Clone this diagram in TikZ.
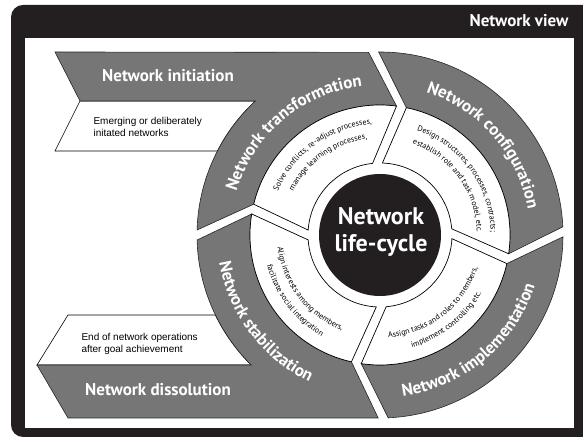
\documentclass[tikz,border=0pt]{standalone}
\usepackage{fontspec}
\setmainfont{Liberation Sans}
\newfontfamily\headfont{PT Sans}
\usetikzlibrary{decorations.text}

\definecolor{framedark}{RGB}{35,31,32}
\definecolor{ringgrey}{RGB}{118,118,118}

% radii of the cycle, half gap between the phases (degrees)
\def\Ro{183}
\def\Rm{130}
\def\Ri{72}
\def\ho{1.57}
\def\hm{2.2}
\def\hi{3.92}

\newcommand{\phasefont}{\headfont\bfseries\fontsize{17}{20}\selectfont\color{white}}
\newcommand{\taskfont}{\headfont\fontsize{8}{9}\selectfont}

\tikzset{
	phase/.style={fill=ringgrey, draw=black!85, line width=0.6pt},
	task/.style={fill=white, draw=black, line width=0.7pt},
	goal/.style={fill=white, draw=black, line width=0.6pt},
	headline/.style={font=\headfont\bfseries\fontsize{17}{20}\selectfont, text=white},
	goaltext/.style={font=\fontsize{10}{12.5}\selectfont, align=left, anchor=west},
	phasetext/.style={decorate, decoration={text along path, text align=center, text={|\phasefont|#1}}},
	tasktext/.style={decorate, decoration={text along path, text align=center, text={|\taskfont|#1}}},
}

\begin{document}
\begin{tikzpicture}[x=1pt,y=1pt]
	\useasboundingbox (0,0) rectangle (583,438);
	% frame
	\fill[framedark, rounded corners=12] (11,1) rectangle (600,433);
	\fill[white] (25,10) rectangle (574,400);
	\node[headline, anchor=east] (view) at (572,417) {Network view};

	\begin{scope}[shift={(380,203)}]
		% transformation, with the initiation banner
		\filldraw[goal] (-300,134) -- (132.92:\Ro) arc[start angle=132.92, end angle=152.68, radius=\Ro] -- (-325,84) -- cycle;
		\filldraw[phase] (-325,183) -- ({92+\ho}:\Ro) -- ({80.5+\hm}:\Rm)
			arc[start angle=80.5+\hm, end angle=168.5-\hm, radius=\Rm]
			-- ({180-\ho}:\Ro) arc[start angle=180-\ho, end angle=132.92, radius=\Ro]
			-- (-300,134) -- cycle;
		% configuration
		\filldraw[phase] ({92-\ho}:\Ro) arc[start angle=92-\ho, end angle=1+\ho, radius=\Ro]
			-- ({-10.5+\hm}:\Rm) arc[start angle=-10.5+\hm, end angle=80.5-\hm, radius=\Rm] -- cycle;
		% implementation
		\filldraw[phase] ({1-\ho}:\Ro) arc[start angle=1-\ho, end angle=-89+\ho, radius=\Ro]
			-- ({-100.5+\hm}:\Rm) arc[start angle=-100.5+\hm, end angle=-10.5-\hm, radius=\Rm] -- cycle;
		% stabilization, with the dissolution banner
		\filldraw[goal] (-312,-80) -- (-154.08:\Ro) arc[start angle=-154.08, end angle=-134.73, radius=\Ro] -- (-343,-130) -- cycle;
		\filldraw[phase] (-343,-130) -- (-134.73:\Ro) arc[start angle=-134.73, end angle=-180+\ho, radius=\Ro]
			-- ({-191.5+\hm}:\Rm) arc[start angle=-191.5+\hm, end angle=-100.5-\hm, radius=\Rm]
			-- ({-89-\ho}:\Ro) -- (-312,-183) -- cycle;

		% inner task sectors
		\foreach \a/\b in {180/92, 92/1, 1/-89, -89/-180}
			\filldraw[task] ({\a-11.5-\hm}:\Rm) -- ({\a-\hi}:\Ri) arc[start angle=\a-\hi, end angle=\b+\hi, radius=\Ri]
				-- ({\b-11.5+\hm}:\Rm) arc[start angle=\b-11.5+\hm, end angle=\a-11.5-\hm, radius=\Rm] -- cycle;

		\fill[framedark] (0,0) circle (61);
		\node[headline, font=\headfont\bfseries\fontsize{24}{27}\selectfont, align=center] (cycle) at (1,3) {Network\\life-cycle};

		% phase names
		\path[phasetext={Network transformation}] (180:150) arc[start angle=180, end angle=80, radius=150];
		\path[phasetext={Network configuration}] (91:150) arc[start angle=91, end angle=-9, radius=150];
		\path[phasetext={Network implementation}] (-100:163) arc[start angle=-100, end angle=0, radius=163];
		\path[phasetext={Network stabilization}] (167:163) arc[start angle=167, end angle=267, radius=163];

		% tasks
		\path[tasktext={Solve conflicts, re-adjust processes,}] (175.5:111) arc[start angle=175.5, end angle=75.5, radius=111];
		\path[tasktext={manage learning processes,}] (175.5:97) arc[start angle=175.5, end angle=75.5, radius=97];
		\path[tasktext={Design structures, processes, contracts;}] (86:111) arc[start angle=86, end angle=-14, radius=111];
		\path[tasktext={establish role and task model, etc.}] (86:97) arc[start angle=86, end angle=-14, radius=97];
		\path[tasktext={Assign tasks and roles to members,}] (-102:103) arc[start angle=-102, end angle=-2, radius=103];
		\path[tasktext={implement controlling etc.}] (-102:117) arc[start angle=-102, end angle=-2, radius=117];
		\path[tasktext={Align interests among members,}] (167.5:103) arc[start angle=167.5, end angle=267.5, radius=103];
		\path[tasktext={facilitate social integration}] (167.5:117) arc[start angle=167.5, end angle=267.5, radius=117];
	\end{scope}

	% entry and exit of the cycle
	\node[headline] (init) at (168,362) {Network initiation};
	\node[goaltext] (initgoal) at (90,311) {Emerging or deliberately\\initated networks};
	\node[headline] (diss) at (158,48) {Network dissolution};
	\node[goaltext] (dissgoal) at (78,94) {End of network operations\\after goal achievement};
\end{tikzpicture}
\end{document}
